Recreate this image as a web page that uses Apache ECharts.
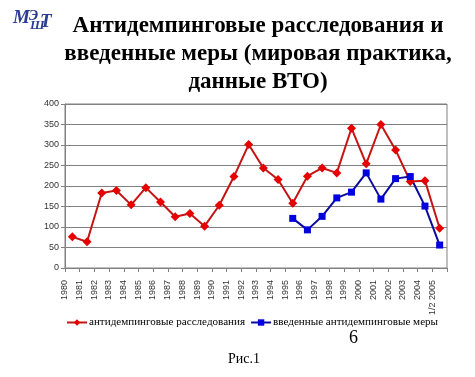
<!DOCTYPE html>
<html>
<head>
<meta charset="utf-8">
<script src="https://cdn.jsdelivr.net/npm/echarts@6/dist/echarts.min.js"></script>
<style>
html,body{margin:0;padding:0;background:#fff;}
#c{width:475px;height:377px;}
</style>
</head>
<body>
<div id="c"></div>
<script>
const years = ['1980','1981','1982','1983','1984','1985','1986','1987','1988','1989','1990','1991','1992','1993','1994','1995','1996','1997','1998','1999','2000','2001','2002','2003','2004','1/2 2005'];
const investigations = [76,64,183,189,154,196,161,125,133,102,153,223,301,244,216,158,224,244,232,341,254,350,288,211,213,97];
const measures = [null,null,null,null,null,null,null,null,null,null,null,null,null,null,null,121,93,126,171,185,232,168,218,223,151,56];
const yTicks = {min:0, max:400, interval:50};
const titleLines = ['Антидемпинговые расследования и','введенные меры (мировая практика,','данные ВТО)'];
const seriesNames = ['антидемпинговые расследования','введенные антидемпинговые меры'];

const chart = echarts.init(document.getElementById('c'), null, {renderer:'canvas'});
const serif = '"Liberation Serif","Times New Roman",serif';
const sans = '"Liberation Sans",Arial,sans-serif';
chart.setOption({
  animation:false,
  backgroundColor:'#fff',
  grid:{left:65,right:28,top:104,bottom:109,show:true,borderColor:'#808080',borderWidth:1,containLabel:false},
  legend:{
    data:seriesNames,
    left:66, top:317, width:420, orient:'horizontal', padding:0,
    itemWidth:20, itemHeight:8, itemGap:5,
    textStyle:{fontFamily:serif,fontSize:11.1,color:'#000',padding:[0,0,0,-3]}
  },
  xAxis:{
    type:'category', data:years, boundaryGap:true,
    axisLine:{lineStyle:{color:'#808080',width:1}},
    axisTick:{show:true,length:4,lineStyle:{color:'#808080'}},
    axisLabel:{rotate:90,interval:0,margin:12,fontFamily:sans,fontSize:9,color:'#333',verticalAlign:'bottom',lineHeight:15}
  },
  yAxis:{
    type:'value', min:yTicks.min, max:yTicks.max, interval:yTicks.interval,
    axisLine:{show:true,lineStyle:{color:'#808080'}},
    axisTick:{show:true,length:4,lineStyle:{color:'#808080'}},
    axisLabel:{fontFamily:sans,fontSize:9,color:'#333',margin:6},
    splitLine:{show:true,lineStyle:{color:'#808080',width:1}}
  },
  series:[
    {name:seriesNames[0],type:'line',data:investigations,symbol:'diamond',symbolSize:9,
     lineStyle:{color:'#c41414',width:2},itemStyle:{color:'#e60000'}},
    {name:seriesNames[1],type:'line',data:measures,symbol:'rect',symbolSize:7,connectNulls:false,
     lineStyle:{color:'#0a0a9c',width:2},itemStyle:{color:'#0000e0'}}
  ],
  graphic:[
    {type:'text',x:258,y:12,style:{text:titleLines.join('\n'),fontFamily:serif,fontWeight:'bold',fontSize:23,lineHeight:28,fill:'#000',align:'center',verticalAlign:'top'}},
    {type:'text',x:13,y:9,style:{text:'М',fontFamily:serif,fontStyle:'italic',fontWeight:'bold',fontSize:19,fill:'#2a3d92'}},
    {type:'text',x:29,y:9,style:{text:'Э',fontFamily:serif,fontStyle:'italic',fontWeight:'bold',fontSize:14,fill:'#2a3d92'}},
    {type:'text',x:30,y:19,style:{text:'Ш',fontFamily:serif,fontStyle:'italic',fontWeight:'bold',fontSize:13,fill:'#2a3d92'}},
    {type:'text',x:40,y:13,style:{text:'Т',fontFamily:serif,fontStyle:'italic',fontWeight:'bold',fontSize:19,fill:'#2a3d92'}},
    {type:'text',x:349,y:329,style:{text:'6',fontFamily:serif,fontSize:18,fill:'#000'}},
    {type:'text',x:228,y:352,style:{text:'Рис.1',fontFamily:serif,fontSize:14,fill:'#000'}}
  ]
});
</script>
</body>
</html>
